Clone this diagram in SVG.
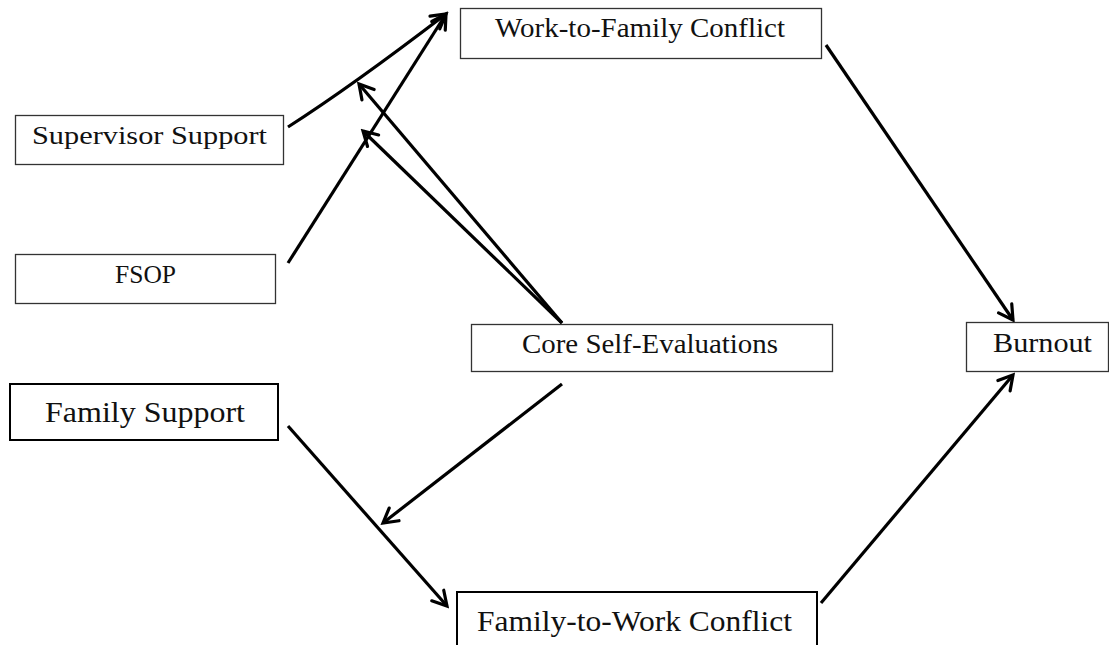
<svg xmlns="http://www.w3.org/2000/svg" width="1109" height="645" viewBox="0 0 1109 645">
<style>
.box{fill:#fff;stroke:#333;stroke-width:1.3}
.boxb{fill:#fff;stroke:#000;stroke-width:2}
.t{font-family:"Liberation Serif","Times New Roman",serif;fill:#111;text-anchor:start}
.c{fill:none;stroke:#000;stroke-width:3.2;marker-end:url(#ah)}
</style>
<defs>
<marker id="ah" viewBox="0 0 20 20" refX="17" refY="10" markerWidth="20" markerHeight="20" markerUnits="userSpaceOnUse" orient="auto">
<path d="M3,2 L17,10 L3,18" fill="none" stroke="#000" stroke-width="3.2" stroke-linecap="round" stroke-linejoin="miter"/>
</marker>
</defs>
<rect width="1109" height="645" fill="#fff"/>
<g id="connectors">
<path class="c" d="M288,127 Q352,86 446,14"/>
<path class="c" d="M288,263 L446,14"/>
<path class="c" d="M562,323 L359,84"/>
<path class="c" d="M562,323 L363,131"/>
<path class="c" d="M562,384 L383,523"/>
<path class="c" d="M288,426 L447,606"/>
<path class="c" d="M826,45 L1013,320"/>
<path class="c" d="M821,603 L1013,375"/>
</g>
<g id="wfc">
<rect class="box" x="460.5" y="8.5" width="361" height="50"/>
<text class="t" x="495" y="37" font-size="28" textLength="290" lengthAdjust="spacingAndGlyphs">Work-to-Family Conflict</text>
</g>
<g id="supervisor">
<rect class="box" x="15.5" y="115.5" width="268" height="49"/>
<text class="t" x="32" y="144" font-size="26" textLength="235" lengthAdjust="spacingAndGlyphs">Supervisor Support</text>
</g>
<g id="fsop">
<rect class="box" x="15.5" y="254.5" width="260" height="49"/>
<text class="t" x="115" y="283" font-size="26" textLength="61" lengthAdjust="spacingAndGlyphs">FSOP</text>
</g>
<g id="family-support">
<rect class="boxb" x="10" y="384" width="268" height="56"/>
<text class="t" x="45" y="422" font-size="29" textLength="200" lengthAdjust="spacingAndGlyphs">Family Support</text>
</g>
<g id="cse">
<rect class="box" x="471.5" y="324.5" width="361" height="47"/>
<text class="t" x="522" y="353" font-size="27" textLength="256" lengthAdjust="spacingAndGlyphs">Core Self-Evaluations</text>
</g>
<g id="burnout">
<rect class="box" x="966.5" y="322.5" width="142" height="49"/>
<text class="t" x="993" y="352" font-size="28" textLength="99" lengthAdjust="spacingAndGlyphs">Burnout</text>
</g>
<g id="fwc">
<rect class="boxb" x="457" y="592" width="360" height="70"/>
<text class="t" x="477" y="631" font-size="29" textLength="315" lengthAdjust="spacingAndGlyphs">Family-to-Work Conflict</text>
</g>
</svg>
